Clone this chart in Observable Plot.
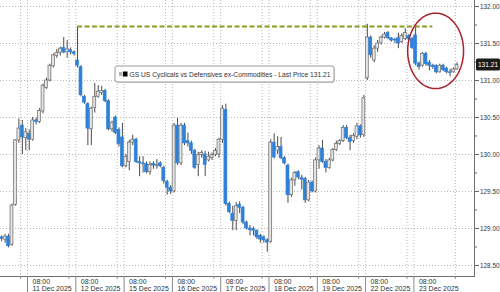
<!DOCTYPE html>
<html><head><meta charset="utf-8">
<script src="https://cdn.jsdelivr.net/npm/d3@7"></script>
<script src="https://cdn.jsdelivr.net/npm/@observablehq/plot@0.6"></script>
<style>
html,body{margin:0;padding:0;background:#fff;}
#chart{position:relative;width:500px;height:292px;overflow:hidden;}
</style></head><body><div id="chart"></div>
<script>
// ---- data ----
const seriesName = "GS US Cyclicals vs Defensives ex-Commodities";
const sessions = ["11 Dec 2025","12 Dec 2025","15 Dec 2025","16 Dec 2025","17 Dec 2025","18 Dec 2025","19 Dec 2025","22 Dec 2025","23 Dec 2025"];
const sessionOpenLabel = "08:00";
const barsPerSession = 14;      // hourly bars per session
const eveningBar = 12;          // dotted grid line inside each session
const firstBar = -8;            // bars of 10 Dec visible before 11 Dec

// hourly OHLC (10 Dec tail, 11..22 Dec full sessions, 23 Dec partial)
const opens = [
 128.88,128.85,128.89,128.78,129.32,130.19,130.39,130.22,
 130.28,130.20,130.46,130.44,130.58,130.90,131.00,131.19,131.33,131.37,131.44,131.38,131.41,131.38,
 131.27,131.18,130.78,130.68,130.34,130.63,130.78,130.83,130.86,130.72,130.34,130.50,130.33,130.23,
 129.84,129.90,130.16,130.20,129.90,129.88,129.87,129.76,129.87,129.84,129.88,129.82,129.63,129.55,
 129.50,130.39,129.88,130.39,130.18,130.15,130.05,129.86,129.99,130.00,129.92,129.95,129.99,130.00,
 130.20,130.60,129.33,129.20,129.10,129.32,129.28,129.08,129.00,128.99,128.97,128.90,128.88,128.84,
 128.82,130.16,130.05,130.10,129.95,129.85,129.45,129.65,129.76,129.68,129.67,129.38,129.62,129.50,
 129.92,130.08,129.90,129.82,129.92,130.06,130.14,130.18,130.36,130.22,130.18,130.24,130.38,130.26,
 131.03,131.58,131.27,131.43,131.50,131.58,131.64,131.57,131.55,131.57,131.52,131.56,131.60,131.56,
 131.61,131.23,131.20,131.36,131.24,131.20,131.20,131.11,131.20,131.16,131.11,131.11,131.15
];
const highs = [
 128.90,128.92,128.92,129.33,130.20,130.48,130.46,130.35,
 130.33,130.50,130.49,130.62,130.95,131.03,131.22,131.36,131.42,131.45,131.58,131.54,131.44,131.40,
 131.73,131.20,130.80,130.70,130.64,130.96,130.93,130.92,130.88,130.74,130.45,130.52,130.36,130.42,
 130.00,130.19,130.26,130.22,129.97,129.97,129.90,129.90,129.90,129.93,129.90,129.84,129.65,129.58,
 130.42,130.49,130.42,130.42,130.29,130.18,130.07,130.03,130.05,130.04,130.03,130.02,130.08,130.22,
 130.66,130.68,129.36,129.30,129.35,129.36,129.30,129.10,129.04,129.02,128.98,128.92,128.90,128.86,
 130.20,130.28,130.24,130.23,129.97,129.87,129.68,129.77,129.78,129.72,129.69,129.65,129.64,129.95,
 130.12,130.19,129.93,129.95,130.08,130.18,130.20,130.39,130.39,130.26,130.28,130.42,130.40,130.80,
 131.76,131.60,131.47,131.54,131.60,131.65,131.66,131.58,131.57,131.64,131.63,131.70,131.62,131.58,
 131.74,131.25,131.38,131.38,131.27,131.22,131.21,131.22,131.22,131.18,131.15,131.17,131.24
];
const lows = [
 128.82,128.80,128.74,128.76,129.30,130.15,130.00,130.05,
 130.05,130.18,130.40,130.42,130.55,130.88,130.98,131.17,131.30,131.33,131.36,131.30,131.35,131.33,
 131.17,130.78,130.68,130.12,130.12,130.56,130.76,130.80,130.70,130.32,130.30,130.27,130.10,129.82,
 129.82,129.78,130.12,129.88,129.70,129.75,129.74,129.72,129.80,129.80,129.82,129.60,129.45,129.46,
 129.48,129.85,129.85,130.12,130.10,130.00,129.80,129.70,129.95,129.70,129.90,129.92,129.97,129.95,
 130.15,129.30,129.20,128.97,128.97,129.20,129.05,128.98,128.90,128.90,128.85,128.80,128.80,128.68,
 128.80,129.94,130.00,129.93,129.86,129.34,129.42,129.57,129.66,129.52,129.34,129.36,129.48,129.48,
 129.80,129.88,129.75,129.80,129.90,130.04,130.12,130.16,130.20,130.05,130.15,130.20,130.22,130.23,
 131.00,131.30,131.24,131.38,131.48,131.56,131.55,131.52,131.50,131.43,131.50,131.54,131.54,131.42,
 131.20,131.14,131.18,131.19,131.13,131.15,131.09,131.10,131.12,131.09,131.05,131.10,131.14
];
const closes = [
 128.86,128.89,128.76,129.31,130.19,130.35,130.23,130.30,
 130.20,130.46,130.44,130.59,130.93,131.00,131.20,131.34,131.37,131.43,131.38,131.42,131.38,131.36,
 131.20,130.80,130.70,130.35,130.62,130.78,130.85,130.86,130.72,130.34,130.43,130.29,130.14,129.84,
 129.97,130.16,130.20,129.90,129.88,129.87,129.76,129.86,129.85,129.86,129.84,129.64,129.55,129.50,
 130.39,129.88,130.39,130.15,130.15,130.05,129.82,129.99,130.02,129.86,129.97,129.99,130.05,130.20,
 130.62,129.33,129.22,129.10,129.30,129.28,129.08,129.00,128.98,128.97,128.88,128.85,128.84,128.81,
 130.16,129.96,130.10,129.95,129.88,129.45,129.65,129.75,129.69,129.66,129.38,129.62,129.50,129.92,
 130.08,129.90,129.82,129.92,130.06,130.14,130.18,130.36,130.22,130.17,130.25,130.38,130.26,130.76,
 131.58,131.34,131.43,131.50,131.58,131.62,131.57,131.54,131.54,131.50,131.60,131.64,131.56,131.44,
 131.23,131.18,131.36,131.22,131.20,131.18,131.11,131.20,131.14,131.11,131.10,131.15,131.21
];
const yTicks = [128.5,129.0,129.5,130.0,130.5,131.0,131.5,132.0];
const yMinorTicks = [128.75,129.25,129.75,130.25,130.75,131.25,131.75];
const lastPrice = 131.21;
const resistanceLevel = 131.73;
const resistanceBars = [14, 117];          // from 12 Dec open bar to 23 Dec
const highlightCenter = [118.3, 131.40];    // bar position, price
const highlightRadius = [8.1, 0.51];        // bars, price

// ---- build ----
const bars = opens.map((o, i) => ({
  t: firstBar + i + 0.5, o, h: highs[i], l: lows[i], c: closes[i], up: closes[i] >= o
}));
const dayStarts = sessions.map((s, i) => i * barsPerSession);
const eveningLines = d3.range(-1, sessions.length).map(i => i * barsPerSession + eveningBar);
const sessionLabels = sessions.map((s, i) => ({t: i * barsPerSession, label: sessionOpenLabel + "\n" + s}));
const ellipse = d3.range(0, 361, 4).map(a => ({
  x: highlightCenter[0] + highlightRadius[0] * Math.cos(a * Math.PI / 180),
  y: highlightCenter[1] + highlightRadius[1] * Math.sin(a * Math.PI / 180)
}));

const font = "'Liberation Sans', Arial, sans-serif";
const grid = {stroke: "#b8b8b8", strokeDasharray: "1,2", strokeWidth: 1};
const chart = Plot.plot({
  width: 500, height: 292,
  marginLeft: 0, marginRight: 26, marginTop: 0, marginBottom: 16,
  style: {fontFamily: font, fontSize: "7px", color: "#333", background: "#fff"},
  x: {domain: [-7.83, 129.57], axis: null},
  y: {domain: [128.351, 132.081], axis: null},
  color: {type: "identity"},
  marks: [
    Plot.ruleY(yTicks, grid),
    Plot.ruleX(dayStarts, grid),
    Plot.ruleX(eveningLines, grid),
    Plot.ruleX(bars, {x: "t", y1: "l", y2: "h", stroke: "#4a4a4a", strokeWidth: 1}),
    Plot.rect(bars, {
      x1: d => d.t - 0.42, x2: d => d.t + 0.42,
      y1: d => Math.min(d.o, d.c), y2: d => Math.max(d.o, d.c),
      fill: d => d.up ? "#e4e4e4" : "#2f80d8",
      stroke: d => d.up ? "#6a6a6a" : "#2f80d8", strokeWidth: 0.7
    }),
    Plot.ruleY([resistanceLevel], {x1: resistanceBars[0] + 0.5, x2: resistanceBars[1] + 0.5, stroke: "#8f9b1c", strokeWidth: 2, strokeDasharray: "5,2.5"}),
    Plot.line(ellipse, {x: "x", y: "y", stroke: "#a8252b", strokeWidth: 1.5}),
    Plot.frame({anchor: "right", stroke: "#6f6f6f"}),
    Plot.frame({anchor: "bottom", stroke: "#6f6f6f"}),
    Plot.axisY(yTicks, {anchor: "right", tickSize: 4, tickPadding: 1.5, fontSize: 6.4, tickFormat: d => d.toFixed(2), stroke: "#666", fill: "#333"}),
    Plot.axisY(yMinorTicks, {anchor: "right", tickSize: 2, tickFormat: () => "", stroke: "#666"}),
    Plot.axisX(dayStarts, {anchor: "bottom", tickSize: 16, tickFormat: () => "", stroke: "#8a8a8a"}),
    Plot.axisX(eveningLines, {anchor: "bottom", tickSize: 3, tickFormat: () => "", stroke: "#8a8a8a"}),
    Plot.text(sessionLabels, {x: "t", frameAnchor: "bottom", text: "label", textAnchor: "start", lineAnchor: "top", dx: 5, dy: 2, lineHeight: 1.05, fill: "#333"})
  ]
});
document.getElementById("chart").appendChild(chart);

// legend box and last price tag
const svg = d3.select(chart);
const yScale = chart.scale("y");
const xRange = chart.scale("x").range;
const yLast = yScale.apply(lastPrice);
const tag = svg.append("g");
tag.append("rect").attr("x", xRange[1] + 2).attr("y", yLast - 6).attr("width", 24).attr("height", 12).attr("rx", 1.5).attr("fill", "#1b1b1b");
tag.append("text").attr("x", xRange[1] + 14).attr("y", yLast).attr("dy", "0.35em").attr("text-anchor", "middle")
  .attr("fill", "#fff").attr("font-size", 6.6).attr("font-family", font).text(lastPrice.toFixed(2));

const lg = svg.append("g").attr("transform", "translate(115,66)");
lg.append("rect").attr("x", 1).attr("y", 1).attr("width", 219).attr("height", 16).attr("rx", 2).attr("fill", "#d8d8d8");
lg.append("rect").attr("width", 219).attr("height", 16).attr("rx", 2).attr("fill", "#fff").attr("stroke", "#9a9a9a");
lg.append("rect").attr("x", 4).attr("y", 6).attr("width", 3.5).attr("height", 4).attr("fill", "#b5b5b5");
lg.append("rect").attr("x", 8).attr("y", 5.5).attr("width", 4.5).attr("height", 5).attr("fill", "#000");
lg.append("text").attr("x", 14.5).attr("y", 8.3).attr("dy", "0.35em").attr("text-anchor", "start").attr("font-size", 7.5)
  .attr("font-family", font).attr("fill", "#333")
  .attr("textLength", 201).attr("lengthAdjust", "spacingAndGlyphs")
  .text(seriesName + " - Last Price " + lastPrice.toFixed(2));
</script>
</body></html>
